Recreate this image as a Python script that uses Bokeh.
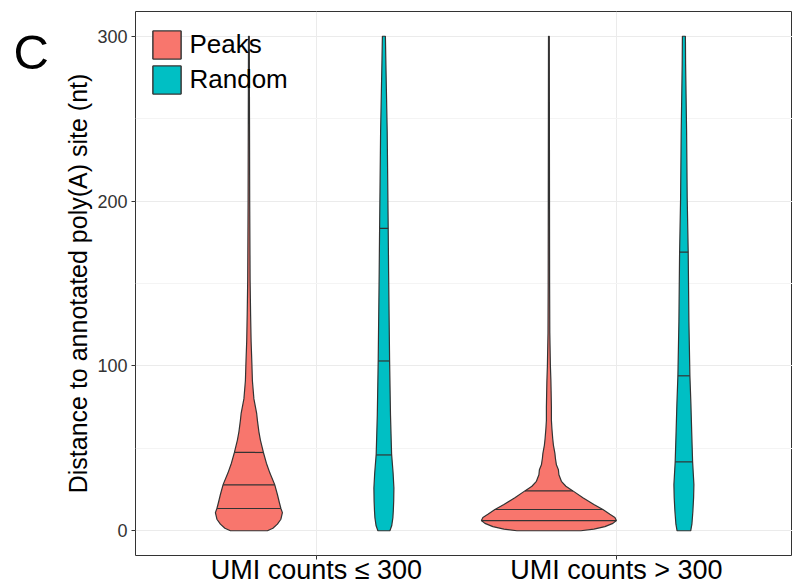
import numpy as np
from bokeh.plotting import figure
from bokeh.layouts import row
from bokeh.models import Range1d, FixedTicker, Legend, LegendItem
from bokeh.core.properties import value
from bokeh.embed import file_html
from bokeh.resources import INLINE

# ---------------- data ----------------
categories = ["UMI counts ≤ 300", "UMI counts > 300"]
groups = ["Peaks", "Random"]
colors = ["#F8766D", "#00BFC4"]
y_ticks = [0, 100, 200, 300]
y_minor = [50, 150, 250]
panel_letter = "C"

# violin outlines: distance (nt) and relative density (half-width)
peaks_le_dist = [0, 1.5, 4, 7, 11, 13.5, 17, 22, 28, 35, 41, 47.5, 55, 60, 67, 71, 80, 91, 101, 115, 131, 152, 200, 250, 300]
peaks_le_dens = [18.5, 24, 28.5, 32, 33.5, 32, 30.5, 28.5, 25.8, 21, 17.5, 14.5, 11.5, 10, 8.5, 7.8, 5, 3.5, 3.0, 2.2, 1.7, 1.2, 0.8, 0.6, 0.4]

random_le_dist = [0, 3, 8, 12, 18, 26, 35, 46.5, 70, 103, 157, 183.5, 242, 283, 300]
random_le_dens = [6, 7.8, 9, 9.4, 9.8, 10, 9.2, 7.7, 6.6, 5.7, 4.7, 4.3, 3.3, 2.0, 1.5]

peaks_gt_dist = [0, 1, 2.5, 4.5, 6.2, 8, 10, 12.9, 16, 20, 24.2, 27, 30, 34, 37, 40, 44, 47, 52, 56, 62, 67, 75, 85, 91, 100, 120, 150, 200, 250, 300]
peaks_gt_dens = [32, 45, 56, 64, 67.5, 66, 61, 54, 45, 34, 24, 17, 12.5, 10, 9.5, 7.5, 6.5, 6, 4.5, 3.8, 3, 2.5, 2.5, 2.2, 2, 1.5, 0.9, 0.7, 0.6, 0.5, 0.4]

random_gt_dist = [0, 4, 12, 20, 28, 42, 60, 77, 94, 127, 169, 202, 242, 283, 300]
random_gt_dens = [6.8, 8, 9, 9.7, 10, 8.7, 7.8, 7, 6, 5, 4.3, 3.3, 2.7, 1.7, 1.5]

# 25 / 50 / 75 % quantiles
peaks_le_q = [13.5, 27.9, 47.5]
random_le_q = [46, 103, 183.5]
peaks_gt_q = [6.2, 12.9, 24.2]
random_gt_q = [41.8, 94, 169]

violins = [
    (0, 0, peaks_le_dist, peaks_le_dens, peaks_le_q),
    (0, 1, random_le_dist, random_le_dens, random_le_q),
    (1, 0, peaks_gt_dist, peaks_gt_dens, peaks_gt_q),
    (1, 1, random_gt_dist, random_gt_dens, random_gt_q),
]

FONT = "Liberation Sans"
OUTLINE = "#333333"

# ---------------- panel letter (narrow side figure) ----------------
LW = 60
pc = figure(width=LW, height=587, x_range=Range1d(0, LW), y_range=Range1d(0, 587),
            output_backend="svg", toolbar_location=None, title=None,
            x_axis_type=None, y_axis_type=None,
            min_border=0, outline_line_color=None)
pc.grid.visible = False
pc.background_fill_color = "white"
pc.border_fill_color = "white"
pc.text(x=[13], y=[543], text=[panel_letter], text_font=value(FONT),
        text_font_size="49px", text_color="black",
        text_align="left", text_baseline="alphabetic")

# ---------------- main plot ----------------
p = figure(width=792 - LW, height=587,
           x_range=Range1d(0.397, 2.587), y_range=Range1d(-15, 315),
           output_backend="svg", toolbar_location=None,
           min_border_left=135 - LW, min_border_right=0,
           min_border_top=11, min_border_bottom=0)
p.background_fill_color = "white"
p.border_fill_color = "white"
p.outline_line_color = OUTLINE
p.outline_line_width = 1

dodge = 0.225
max_dens = max(max(v[3]) for v in violins)
renderers = {0: [], 1: []}
for ci, gi, dist, dens, q in violins:
    center = ci + 1 + (-dodge if gi == 0 else dodge)
    d = np.array(dist, dtype=float)
    hw = np.array(dens, dtype=float) / max_dens * dodge
    xs = np.concatenate([center - hw, (center + hw)[::-1]])
    ys = np.concatenate([d, d[::-1]])
    r = p.patch(xs, ys, fill_color=colors[gi], line_color=OUTLINE, line_width=1.2)
    renderers[gi].append(r)
    qhw = np.interp(q, d, hw)
    p.segment(x0=center - qhw, y0=q, x1=center + qhw, y1=q,
              line_color=OUTLINE, line_width=1.2)

legend = Legend(items=[LegendItem(label=groups[g], renderers=renderers[g]) for g in (0, 1)],
                location=(13.5, 458.5))
legend.background_fill_alpha = 0
legend.border_line_color = None
legend.glyph_width = 35
legend.glyph_height = 35
legend.label_height = 28
legend.spacing = 0
legend.padding = 0
legend.margin = 0
legend.label_standoff = 6
legend.label_text_font = FONT
legend.label_text_font_size = "26px"
legend.label_text_color = "black"
p.add_layout(legend)

# axes
p.xaxis.ticker = FixedTicker(ticks=[1, 2])
p.xaxis.major_label_overrides = {1: categories[0], 2: categories[1]}
p.yaxis.ticker = FixedTicker(ticks=y_ticks, minor_ticks=y_minor)
for ax in (p.xaxis, p.yaxis):
    ax.axis_line_color = None
    ax.major_tick_line_color = OUTLINE
    ax.major_tick_out = 4
    ax.major_tick_in = 0
    ax.minor_tick_line_color = None
    ax.major_label_text_font = FONT
p.xaxis.major_label_text_font_size = "27px"
p.xaxis.major_label_text_color = "black"
p.xaxis.major_label_standoff = -5
p.yaxis.major_label_text_font_size = "18px"
p.yaxis.major_label_text_color = "#333333"
p.yaxis.major_label_standoff = 4
p.yaxis.axis_label = "Distance to annotated poly(A) site (nt)"
p.yaxis.axis_label_text_font = FONT
p.yaxis.axis_label_text_font_size = "25px"
p.yaxis.axis_label_text_font_style = "normal"
p.yaxis.axis_label_text_color = "black"
p.yaxis.axis_label_standoff = 2

p.xgrid.grid_line_color = "#EBEBEB"
p.ygrid.grid_line_color = "#EBEBEB"
p.ygrid.minor_grid_line_color = "#F4F4F4"

layout = row(pc, p, spacing=0)
open("out.html", "w").write(file_html(layout, INLINE))
